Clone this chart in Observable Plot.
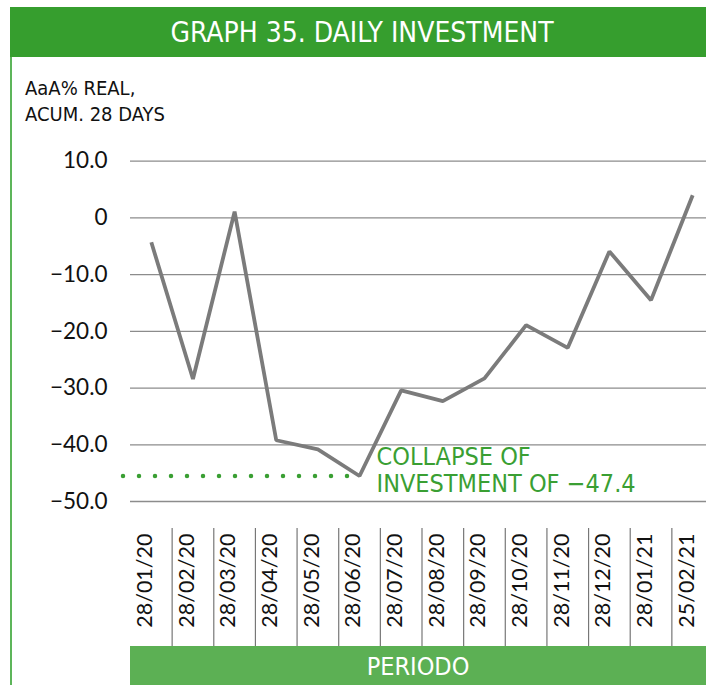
<!DOCTYPE html>
<html>
<head>
<meta charset="utf-8">
<script src="https://cdn.jsdelivr.net/npm/d3@7"></script>
<script src="https://cdn.jsdelivr.net/npm/@observablehq/plot@0.6"></script>
<style>
  body { margin: 0; background: #fff; }
  #wrap { position: relative; width: 706px; height: 685px; overflow: hidden; background: #fff; }
  .cond { font-family: "Liberation Sans Narrow", "DejaVu Sans Condensed", "Open Sans", sans-serif; font-stretch: condensed; }
  #title { position: absolute; left: 10px; top: 7px; width: 688px; padding-left: 8px; height: 50px; background: #369e2e; color: #fff; font-size: 28px; line-height: 52px; text-align: center; }
  #border { position: absolute; left: 10px; top: 57px; width: 2px; height: 628px; background: #5db55a; }
  #ylab { position: absolute; left: 25px; top: 75px; font-size: 20px; line-height: 26px; color: #111; }
  #chart { position: absolute; left: 0; top: 130px; }
  #periodo { position: absolute; left: 130px; top: 646px; width: 576px; height: 39px; background: #5cb054; color: #fff; font-size: 25px; line-height: 41px; text-align: center; }
</style>
</head>
<body>
<div id="wrap">
  <div id="title" class="cond"></div>
  <div id="border"></div>
  <div id="ylab" class="cond"></div>
  <div id="chart"></div>
  <div id="periodo" class="cond"></div>
</div>
<script>
// ---- data ----
const chartTitle = "GRAPH 35. DAILY INVESTMENT";
const yAxisTitle = ["AaA% REAL,", "ACUM. 28 DAYS"];
const xAxisTitle = "PERIODO";
const dates = ["28/01/20", "28/02/20", "28/03/20", "28/04/20", "28/05/20", "28/06/20", "28/07/20",
               "28/08/20", "28/09/20", "28/10/20", "28/11/20", "28/12/20", "28/01/21", "25/02/21"];
const values = [-4.3, -28.4, 1.1, -39.2, -40.8, -45.5, -30.4, -32.3, -28.3, -18.9, -22.9, -5.9, -14.5, 4.0];
const yTicks = [10, 0, -10, -20, -30, -40, -50];
const yTickLabels = ["10.0", "0", "−10.0", "−20.0", "−30.0", "−40.0", "−50.0"];
const annotation = "COLLAPSE OF\nINVESTMENT OF −47.4";

// ---- build ----
document.getElementById("title").textContent = chartTitle;
document.getElementById("ylab").innerHTML = yAxisTitle.join("<br>");
document.getElementById("periodo").textContent = xAxisTitle;

const data = dates.map((d, i) => ({date: d, value: values[i]}));
const minRow = data.reduce((a, b) => (b.value < a.value ? b : a));
const green = "#3a9f33";
const condFont = '"Liberation Sans Narrow", "DejaVu Sans Condensed", "Open Sans", sans-serif';
const xRange = [130, 713];
const bw = (xRange[1] - xRange[0]) / dates.length;

const chart = Plot.plot({
  width: 706,
  height: 516,
  marginLeft: 130,
  marginRight: 0,
  marginTop: 398,
  marginBottom: 0,
  style: {fontFamily: "Lato, sans-serif", fontSize: "22.5px", color: "#111", background: "transparent", overflow: "visible"},
  x: {type: "band", domain: dates, range: xRange, padding: 0, round: false, axis: null},
  y: {
    domain: [-50, 10], range: [371, 30.7], ticks: yTicks,
    tickFormat: d => yTickLabels[yTicks.indexOf(d)],
    tickSize: 0, tickPadding: 23, label: null, axis: "left"
  },
  marks: [
    Plot.ruleY(yTicks, {stroke: "#8c8c8c", strokeWidth: 1.3}),
    Plot.ruleY([minRow], {y: "value", x1: () => dates[0], x2: d => d.date, insetLeft: -7, insetRight: bw / 2,
      stroke: green, strokeWidth: 4.5, strokeDasharray: "0 16", strokeLinecap: "round"}),
    Plot.line(data, {x: "date", y: "value", stroke: "#7b7b7b", strokeWidth: 3.8,
      strokeLinejoin: "miter", strokeLinecap: "butt"}),
    Plot.text([minRow], {x: "date", y: "value", text: () => annotation, textAnchor: "start", lineAnchor: "top",
      dx: 17, dy: -30, fill: green, fontSize: 25, fontFamily: condFont, lineHeight: 1.07}),
    Plot.ruleX(dates.slice(1), {x: d => d, dx: -bw / 2, stroke: "#777", strokeWidth: 1.2}),
    Plot.text(dates, {x: d => d, text: d => d, frameAnchor: "top", rotate: -90, textAnchor: "end",
      lineAnchor: "middle", dx: -6, dy: 5, fontSize: 21.5, fill: "#111"})
  ]
});
document.getElementById("chart").appendChild(chart);
</script>
</body>
</html>
